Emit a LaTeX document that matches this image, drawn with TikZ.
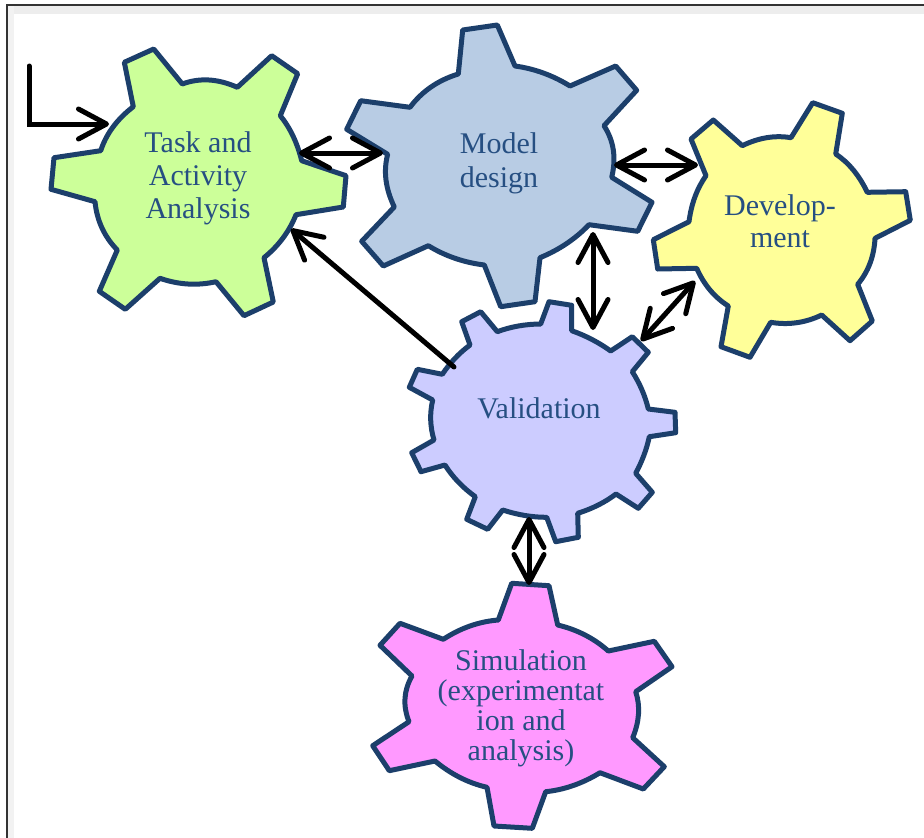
\documentclass[tikz,border=0pt]{standalone}
\usepackage{fontspec}
\setmainfont{Liberation Serif}
\usetikzlibrary{arrows.meta,calc}
\definecolor{gearline}{HTML}{1C3F6B}
\definecolor{gtext}{HTML}{264F82}
\newcommand\A[3]{.. controls ($1.3333*(#2)-0.3333*(#3)$) and ($1.3333*(#2)-0.3333*(#1)$) .. (#3)}
\tikzset{
  gear/.style={draw=gearline,line width=5pt,line join=round},
  gearlabel/.style={text=gtext,align=center,inner sep=0pt,font=\fontsize{30}{33}\selectfont},
  link/.style={draw=black,line width=5pt,line cap=round,line join=miter,
    arrows={-Straight Barb[length=28pt,width=30pt,line width=5pt,round]}},
  biglink/.style={draw=black,line width=5pt,line cap=round,
    arrows={Straight Barb[length=28pt,width=30pt,line width=5pt,round]-Straight Barb[length=28pt,width=30pt,line width=5pt,round]}},
}
\begin{document}
\begin{tikzpicture}[x=1pt,y=-1pt]
\useasboundingbox (0,0) rectangle (924,838);
\fill[white] (0,0) rectangle (924,838);
% frame with its soft inner shadow
\fill[black!7] (8,6) rectangle (924,14);
\fill[black!5] (8,6) rectangle (14,838);
\draw[black!80,line width=2pt] (7,838) -- (7,5) -- (924,5);

% Task gear
\draw[gear,fill={rgb,255:red,204;green,255;blue,153}]
 (153.7,49) -- (182.3,84) \A{182.3,84}{209,80}{237.3,87.3} -- (271.7,55.7) -- (297.7,73.7) -- (280.3,115.7)
 \A{280.3,115.7}{293,136}{301.7,160.7} -- (346,175.7) -- (343.3,207) -- (296,214.7)
 \A{296,214.7}{283,238}{264,257.7} -- (273.3,302) -- (244,315.7) -- (216,281.7)
 \A{216,281.7}{188,284}{160,278.3} -- (125.3,309.3) -- (99.3,291.3) -- (117.3,250)
 \A{117.3,250}{102,228}{95,201.7} -- (51,189.3) -- (54,157.7) -- (100.7,150.7)
 \A{100.7,150.7}{113,127}{133.3,106.7} -- (124.3,62.3) -- cycle;

% Model gear
\draw[gear,fill={rgb,255:red,184;green,204;blue,228}]
 (497.3,25) -- (515,66) \A{515,66}{543.3,73}{570,86} -- (615.7,66) -- (636.7,90.3) -- (604,125.7)
 \A{604,125.7}{613.3,150}{611.7,177.3} -- (652,202.3) -- (637.7,231.3) -- (589,224.7)
 \A{589,224.7}{566.7,243.5}{540,257.7} -- (535,301.7) -- (500.7,306.7) -- (484.3,265)
 \A{484.3,265}{455,258.3}{428.3,245.7} -- (383.3,266) -- (361.7,241.3) -- (394.3,207)
 \A{394.3,207}{386,180}{387.7,154.3} -- (346.7,129.3) -- (360.7,100.7) -- (410,107.3)
 \A{410,107.3}{431,87}{458.3,74} -- (462.7,30) -- cycle;

% Development gear
\draw[gear,fill={rgb,255:red,255;green,255;blue,153}]
 (812.7,102.7) -- (842.3,113.3) -- (835.7,154) \A{835.7,154}{853.3,170}{867.3,192.3} -- (905.7,191.7) -- (910.3,220.3) -- (875,238.3)
 \A{875,238.3}{870,263.3}{857.7,284.3} -- (872.3,321) -- (850,340.7) -- (821.7,315)
 \A{821.7,315}{796.7,322.7}{770.7,322.3} -- (750,357.3) -- (721,346.7) -- (728.3,306)
 \A{728.3,306}{710,290}{696.7,268.3} -- (657.7,269) -- (653.3,239.7) -- (689,221.7)
 \A{689,221.7}{695,196.7}{706,175.7} -- (691,139) -- (713.3,120) -- (742.3,145.7)
 \A{742.3,145.7}{766.7,137.7}{791,137.7} -- (812.7,102.7) -- cycle;

% Validation gear
\draw[gear,fill={rgb,255:red,204;green,204;blue,255}]
 (549,301.7) -- (571.7,305.3) -- (571.7,330.7) \A{571.7,330.7}{592,339.5}{610.7,351} -- (632.3,336.7) -- (648.3,352.3) -- (632.3,371.7)
 \A{632.3,371.7}{642,390}{648.3,409} -- (675,412.3) -- (675.7,432.7) -- (649.3,436.7)
 \A{649.3,436.7}{644,455}{635.7,473.3} -- (652.3,492.3) -- (638.3,508.3) -- (616,494)
 \A{616,494}{598.3,505}{577.7,513.3} -- (578.3,537.3) -- (555.7,541.7) -- (546.7,517.3)
 \A{546.7,517.3}{525,515.5}{502.7,510} -- (487.7,529.3) -- (466.7,519.3) -- (475.3,496.7)
 \A{475.3,496.7}{458.3,482}{445,465} -- (421,471.7) -- (411.7,452.7) -- (434,440)
 \A{434,440}{430.7,420}{432.7,400} -- (409.3,387.3) -- (417.3,369.3) -- (442.3,374.3)
 \A{442.3,374.3}{455,358.3}{470,345} -- (461.7,321.7) -- (480.7,311.7) -- (497.3,331.7)
 \A{497.3,331.7}{518.3,326}{540.7,324} -- cycle;

% Simulation gear
\draw[gear,fill={rgb,255:red,255;green,153;blue,255}]
 (511.7,583.3) -- (549,585.7) -- (557.7,625) \A{557.7,625}{585,635}{608.3,651} -- (654.3,641.3) -- (672,666.7) -- (635.7,691.7)
 \A{635.7,691.7}{638.5,714}{632.7,737.7} -- (664.3,766.7) -- (643.3,789) -- (600,772.7)
 \A{600,772.7}{573.3,785.5}{545.7,791.7} -- (532.3,828.3) -- (494,826) -- (487,787.3)
 \A{487,787.3}{460,777.5}{435,761} -- (389.3,770.7) -- (372.7,745.7) -- (409,721.7)
 \A{409,721.7}{405,698.3}{412,676} -- (380,645.3) -- (400,623.3) -- (443.3,639.3)
 \A{443.3,639.3}{470,626}{498.3,620} -- cycle;

% Labels
\node[gearlabel] (task) at (198,178) {Task and\\Activity\\Analysis};
\node[gearlabel,font=\fontsize{30}{34}\selectfont] (model) at (499,163) {Model\\design};
\node[gearlabel,font=\fontsize{30}{32}\selectfont] (dev) at (780,221) {Develop-\\ment};
\node[gearlabel] (val) at (539,408) {Validation};
\node[gearlabel,font=\fontsize{30}{30}\selectfont] (sim) at (521,708) {Simulation\\(experimentat\\ion and\\analysis)};

% Connector ends
\coordinate (start) at (29,66);
\coordinate (corner) at (29,124);
\coordinate (taskin) at (109,124);
\coordinate (taskr) at (299,153);
\coordinate (modell) at (383,153);
\coordinate (modelr) at (614,165);
\coordinate (devl) at (698,165);
\coordinate (modelb) at (593,232);
\coordinate (valt) at (593,330);
\coordinate (devb) at (695,281);
\coordinate (valr) at (641,341);
\coordinate (valo) at (454,367);
\coordinate (taskb) at (291,229);
\coordinate (valb) at (529,517);
\coordinate (simt) at (529,585);

\draw[link] (start) -- (corner) -- (taskin);
\draw[biglink] (taskr) -- (modell);
\draw[biglink] (modelr) -- (devl);
\draw[biglink] (modelb) -- (valt);
\draw[biglink] (devb) -- (valr);
\draw[link] (valo) -- (taskb);
\draw[biglink] (valb) -- (simt);
\end{tikzpicture}
\end{document}
